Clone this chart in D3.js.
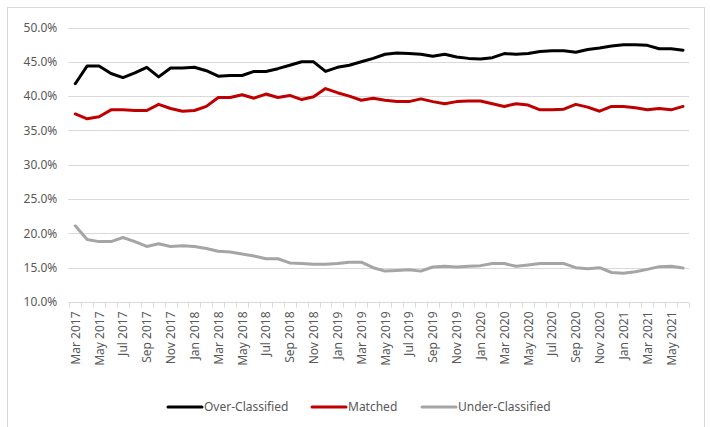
<!DOCTYPE html>
<html>
<head>
<meta charset="utf-8">
<script src="https://cdn.jsdelivr.net/npm/d3@7"></script>
<style>
  html, body { margin: 0; padding: 0; background: #fff; }
  svg { display: block; }
  text { font-family: "Noto Sans", "Open Sans", sans-serif; fill: #595959; }
</style>
</head>
<body>
<svg id="chart" width="710" height="427"></svg>
<script>
// Monthly shares, Mar 2017 – Jun 2021
const months = [
  "Mar 2017","Apr 2017","May 2017","Jun 2017","Jul 2017","Aug 2017","Sep 2017","Oct 2017","Nov 2017","Dec 2017",
  "Jan 2018","Feb 2018","Mar 2018","Apr 2018","May 2018","Jun 2018","Jul 2018","Aug 2018","Sep 2018","Oct 2018",
  "Nov 2018","Dec 2018","Jan 2019","Feb 2019","Mar 2019","Apr 2019","May 2019","Jun 2019","Jul 2019","Aug 2019",
  "Sep 2019","Oct 2019","Nov 2019","Dec 2019","Jan 2020","Feb 2020","Mar 2020","Apr 2020","May 2020","Jun 2020",
  "Jul 2020","Aug 2020","Sep 2020","Oct 2020","Nov 2020","Dec 2020","Jan 2021","Feb 2021","Mar 2021","Apr 2021",
  "May 2021","Jun 2021"
];

const overClassified = [
  41.8,44.4,44.4,43.3,42.7,43.4,44.2,42.8,44.1,44.1,
  44.2,43.7,42.9,43.0,43.0,43.6,43.6,44.0,44.5,45.0,
  45.0,43.6,44.2,44.5,45.0,45.5,46.1,46.3,46.2,46.1,
  45.8,46.1,45.7,45.5,45.4,45.6,46.2,46.1,46.2,46.5,
  46.6,46.6,46.4,46.8,47.0,47.3,47.5,47.5,47.4,46.9,
  46.9,46.7
];

const matched = [
  37.4,36.7,37.0,38.0,38.0,37.9,37.9,38.8,38.2,37.8,
  37.9,38.5,39.8,39.8,40.2,39.7,40.3,39.8,40.1,39.5,
  39.9,41.1,40.5,40.0,39.4,39.7,39.4,39.2,39.2,39.6,
  39.2,38.9,39.2,39.3,39.3,38.9,38.5,38.9,38.7,38.0,
  38.0,38.1,38.8,38.4,37.8,38.5,38.5,38.3,38.0,38.2,
  38.0,38.5
];

const underClassified = [
  21.1,19.1,18.8,18.8,19.4,18.8,18.1,18.5,18.1,18.2,
  18.1,17.8,17.4,17.3,17.0,16.7,16.3,16.3,15.7,15.6,
  15.5,15.5,15.6,15.8,15.8,15.0,14.5,14.6,14.7,14.5,
  15.1,15.2,15.1,15.2,15.3,15.6,15.6,15.2,15.4,15.6,
  15.6,15.6,15.0,14.85,15.0,14.3,14.2,14.4,14.75,15.15,
  15.2,14.95
];

const yTicks = [10, 15, 20, 25, 30, 35, 40, 45, 50];
const seriesNames = ["Over-Classified", "Matched", "Under-Classified"];
const seriesColors = ["#000000", "#c00000", "#a5a5a5"];

const series = [overClassified, matched, underClassified].map((values, i) => ({
  name: seriesNames[i], color: seriesColors[i], values
}));

const svg = d3.select("#chart");

// Chart frame
svg.append("rect")
  .attr("x", 7.5).attr("y", 7.5)
  .attr("width", 697).attr("height", 430)
  .attr("fill", "none").attr("stroke", "#d9d9d9");

const plot = { left: 69.3, right: 689, top: 27.5, bottom: 302 };

const x = d3.scaleBand().domain(months).range([plot.left, plot.right]).padding(0);
const y = d3.scaleLinear().domain([10, 50]).range([plot.bottom, plot.top]);

// Horizontal gridlines
svg.append("g")
  .selectAll("line")
  .data(yTicks.filter(t => t !== 10))
  .join("line")
  .attr("x1", plot.left - 1).attr("x2", plot.right)
  .attr("y1", d => Math.round(y(d)) + 0.5).attr("y2", d => Math.round(y(d)) + 0.5)
  .attr("stroke", "#d9d9d9").attr("stroke-width", 1);

// Y axis labels
const yAxis = svg.append("g")
  .attr("transform", `translate(${plot.left - 12},0)`)
  .call(d3.axisLeft(y).tickValues(yTicks).tickSize(0).tickPadding(0)
    .tickFormat(d => d.toFixed(1) + "%"));
yAxis.select(".domain").remove();
yAxis.selectAll("text")
  .attr("font-size", 12)
  .attr("fill", "#595959")
  .style("font-family", "'Noto Sans', sans-serif");

// X axis: baseline, tick marks at category boundaries, rotated labels
const xAxisG = svg.append("g")
  .attr("transform", `translate(0,${Math.round(plot.bottom) + 0.5})`);

xAxisG.append("line")
  .attr("x1", plot.left - 1).attr("x2", plot.right)
  .attr("stroke", "#d9d9d9");

xAxisG.selectAll("line.tick")
  .data(months.concat(["__end"]))
  .join("line")
  .attr("class", "tick")
  .attr("x1", (d, i) => Math.round(plot.left + i * x.bandwidth()) + 0.5)
  .attr("x2", (d, i) => Math.round(plot.left + i * x.bandwidth()) + 0.5)
  .attr("y1", 0).attr("y2", 5)
  .attr("stroke", "#d9d9d9");

xAxisG.selectAll("text")
  .data(months.filter((d, i) => i % 2 === 0))
  .join("text")
  .attr("transform", d => `translate(${x(d) + x.bandwidth() / 2 + 4.5},9) rotate(-90)`)
  .attr("text-anchor", "end")
  .attr("font-size", 12)
  .text(d => d);

// Series lines
const line = d3.line()
  .x((d, i) => x(months[i]) + x.bandwidth() / 2)
  .y(d => y(d));

svg.append("g")
  .selectAll("path")
  .data(series)
  .join("path")
  .attr("d", d => line(d.values))
  .attr("fill", "none")
  .attr("stroke", d => d.color)
  .attr("stroke-width", 3)
  .attr("stroke-linejoin", "round")
  .attr("stroke-linecap", "round");

// Legend
const legendX = [168, 312, 422];
const legend = svg.append("g").attr("transform", "translate(0,407)");
const item = legend.selectAll("g")
  .data(series)
  .join("g")
  .attr("transform", (d, i) => `translate(${legendX[i]},0)`);
item.append("line")
  .attr("x1", 0).attr("x2", 34)
  .attr("stroke", d => d.color)
  .attr("stroke-width", 3)
  .attr("stroke-linecap", "round");
item.append("text")
  .attr("x", 36).attr("dy", "0.35em")
  .attr("font-size", 12)
  .text(d => d.name);
</script>
</body>
</html>
